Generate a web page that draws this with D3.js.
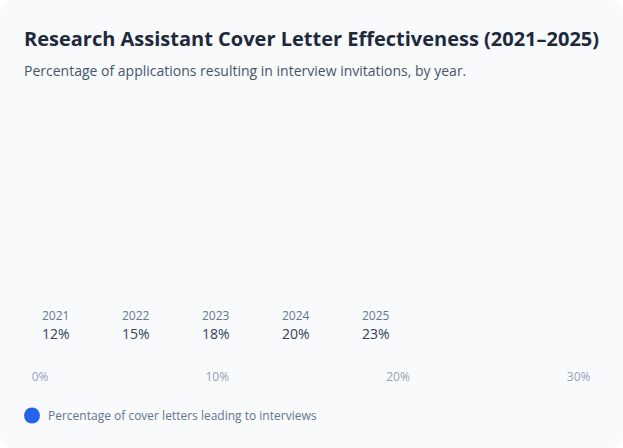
<!DOCTYPE html>
<html>
<head>
<meta charset="utf-8">
<script src="https://cdn.jsdelivr.net/npm/d3@7"></script>
<style>
  html, body { margin: 0; padding: 0; background: #ffffff; }
  body { font-family: "Open Sans", "Noto Sans", sans-serif; }
</style>
</head>
<body>
<div id="chart"></div>
<script>
const years = ["2021", "2022", "2023", "2024", "2025"];
const values = [12, 15, 18, 20, 23];
const ticks = [0, 10, 20, 30];
const seriesName = "Percentage of cover letters leading to interviews";

function init() {
    const W = 623, H = 448;

    const svg = d3.select("#chart")
        .append("svg")
        .attr("width", W)
        .attr("height", H);

    // card
    svg.append("rect")
        .attr("x", 0)
        .attr("y", 0)
        .attr("width", W)
        .attr("height", H)
        .attr("rx", 14)
        .attr("fill", "#f8fafc");

    svg.append("text")
        .attr("x", 24)
        .attr("y", 46)
        .attr("font-size", 20)
        .attr("font-weight", 700)
        .attr("fill", "#1e293b")
        .text("Research Assistant Cover Letter Effectiveness (2021\u20132025)");

    svg.append("text")
        .attr("x", 24)
        .attr("y", 76)
        .attr("font-size", 14)
        .attr("fill", "#475569")
        .text("Percentage of applications resulting in interview invitations, by year.");

    // year columns
    let col = d3.scaleBand()
        .domain(years)
        .range([42, 42 + 80 * years.length])

    let g = svg.selectAll("g.item")
        .data(years.map((y, i) => ({ year: y, value: values[i] })))
        .enter()
        .append("g")
        .attr("transform", d => "translate(" + col(d.year) + ",0)")
        .classed("item", true)

    g.append("text")
        .attr("y", 320)
        .attr("font-size", 12)
        .attr("fill", "#64748b")
        .text(d => d.year)

    g.append("text")
        .attr("y", 339)
        .attr("font-size", 14)
        .attr("fill", "#334155")
        .text(d => d.value + "%")

    // axis (labels end-aligned on the tick)
    let x = d3.scaleLinear()
        .domain([0, 30])
        .range([48, 590])

    let axis = svg.append("g")
        .attr("transform", "translate(0,381)")
        .call(d3.axisBottom(x).tickValues(ticks).tickFormat(d => d + "%").tickSize(0).tickPadding(0))

    axis.select(".domain").remove()
    axis.selectAll("text")
        .attr("dy", 0)
        .attr("text-anchor", "end")
        .attr("font-family", "\"Open Sans\", \"Noto Sans\", sans-serif")
        .attr("font-size", 12)
        .attr("fill", "#94a3b8")

    // legend
    svg.append("circle")
        .attr("cx", 32)
        .attr("cy", 415.5)
        .attr("r", 8)
        .attr("fill", "#2563eb")

    svg.append("text")
        .attr("x", 48)
        .attr("y", 419.5)
        .attr("font-size", 12)
        .attr("fill", "#64748b")
        .text(seriesName)
}

window.onload = init;
</script>
</body>
</html>
